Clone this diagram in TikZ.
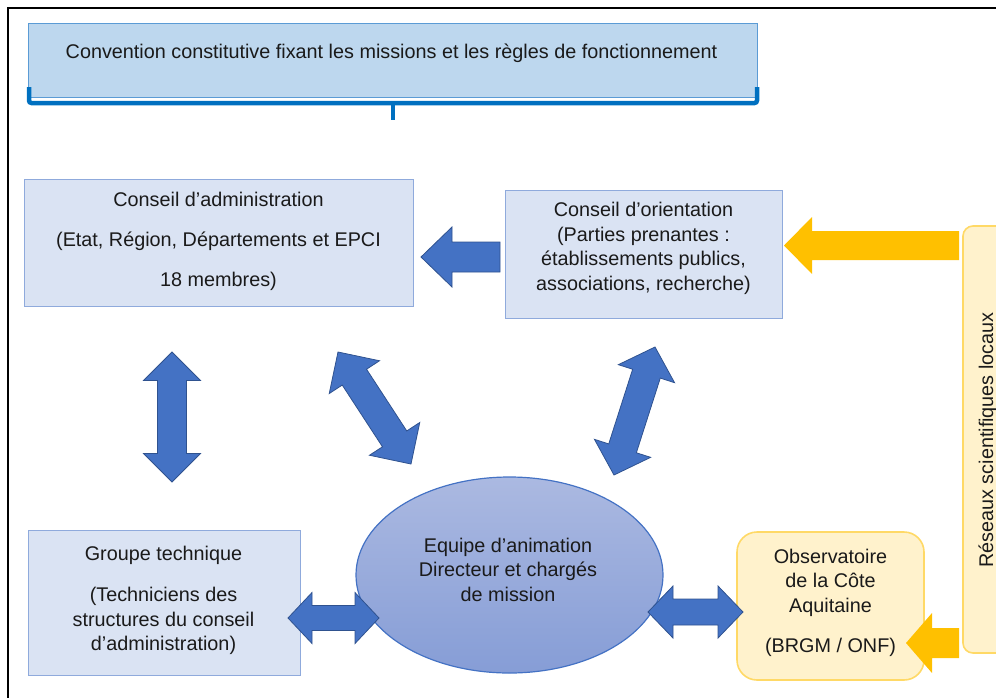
\documentclass[tikz,border=0pt]{standalone}
\usepackage{fontspec}
\setmainfont{Liberation Sans}
\usetikzlibrary{calc,shapes.geometric}
\definecolor{convfill}{HTML}{BDD7EE}
\definecolor{convline}{HTML}{5B9BD5}
\definecolor{bracketc}{HTML}{0070C0}
\definecolor{boxfill}{HTML}{DAE3F3}
\definecolor{boxline}{HTML}{8FAADC}
\definecolor{arrowfill}{HTML}{4472C4}
\definecolor{arrowline}{HTML}{2F528F}
\definecolor{ellline}{HTML}{4472C4}
\definecolor{elltop}{HTML}{ABB9E1}
\definecolor{ellbot}{HTML}{869DD6}
\definecolor{yelfill}{HTML}{FFF2CC}
\definecolor{yelline}{HTML}{FFD966}
\definecolor{yelarrow}{HTML}{FFC000}
\definecolor{txtc}{HTML}{1A1A1A}
% double block arrow: style, A, B, shaft half, head half, head length
\newcommand\dblblock[6]{%
  \path ($(#2)!#6!(#3)$) coordinate (tmpa) ($(#3)!#6!(#2)$) coordinate (tmpb);
  \draw[#1] (#2) -- ($(tmpa)!#5!90:(#3)$) -- ($(tmpa)!#4!90:(#3)$) -- ($(tmpb)!#4!-90:(#2)$) -- ($(tmpb)!#5!-90:(#2)$) -- (#3) -- ($(tmpb)!#5!90:(#2)$) -- ($(tmpb)!#4!90:(#2)$) -- ($(tmpa)!#4!-90:(#3)$) -- ($(tmpa)!#5!-90:(#3)$) -- cycle;
}
% single block arrow: style, tail, tip, shaft half, head half, head length
\newcommand\oneblock[6]{%
  \path ($(#3)!#6!(#2)$) coordinate (tmpb);
  \draw[#1] ($(#2)!#4!90:(#3)$) -- ($(tmpb)!#4!-90:(#2)$) -- ($(tmpb)!#5!-90:(#2)$) -- (#3) -- ($(tmpb)!#5!90:(#2)$) -- ($(tmpb)!#4!90:(#2)$) -- ($(#2)!#4!-90:(#3)$) -- cycle;
}
\tikzset{
  lbl/.style={font=\fontsize{19.8}{24.5}\selectfont, text=txtc, align=center, inner sep=0pt},
  bluebox/.style={draw=boxline, fill=boxfill, line width=1pt, inner sep=0pt, outer sep=0pt},
  yelbox/.style={draw=yelline, fill=yelfill, line width=1.6pt, inner sep=0pt, outer sep=0pt, rounded corners=#1},
  bluearrow/.style={fill=arrowfill, draw=arrowline, line width=0.8pt, line join=miter},
  yarrow/.style={fill=yelarrow, draw=none},
}
\begin{document}
\begin{tikzpicture}[x=1pt,y=-1pt]
\useasboundingbox (0,0) rectangle (996,697);
% frame
\draw[line width=2.2pt] (7.7,720) -- (7.7,7.7) -- (1020,7.7);

% convention box with bracket
\node[draw=convline, fill=convfill, line width=1pt, inner sep=0pt, minimum width=729pt, minimum height=74pt] (conv) at (392.5,60) {};
\node[lbl] (convt) at (391.5,53.5) {Convention constitutive fixant les missions et les règles de fonctionnement};
\draw[bracketc, line width=4.5pt, rounded corners=2.5pt] (29,87) -- (29,103) -- (757,103) -- (757,87);
\draw[bracketc, line width=4.5pt] (393,103) -- (393,120);

% boxes
\node[bluebox, minimum width=389pt, minimum height=127pt] (ca) at (218.5,242.5) {};
\node[lbl] (cat) at (218.5,241.5) {Conseil d’administration\\[15.5pt](Etat, Région, Départements et EPCI\\[15.5pt]18 membres)};

\node[bluebox, minimum width=277pt, minimum height=128pt] (co) at (643.5,254) {};
\node[lbl] (cot) at (643.5,248.5) {Conseil d’orientation\\(Parties prenantes :\\établissements publics,\\associations, recherche)};

\node[bluebox, minimum width=272pt, minimum height=145pt] (gt) at (164,602.5) {};
\node[lbl] (gtt) at (163.5,600.5) {Groupe technique\\[16.5pt](Techniciens des\\structures du conseil\\d’administration)};

\node[ellipse, draw=ellline, line width=1.2pt, top color=elltop, bottom color=ellbot, minimum width=307pt, minimum height=196pt, inner sep=0pt] (eq) at (509.5,575) {};
\node[lbl] (eqt) at (508,569.5) {Equipe d’animation\\Directeur et chargés\\de mission};

\node[yelbox=20pt, minimum width=187pt, minimum height=148pt] (obs) at (830.5,606) {};
\node[lbl] (obst) at (830.5,602.5) {Observatoire\\de la Côte\\Aquitaine\\[15.5pt](BRGM / ONF)};

\node[yelbox=10pt, minimum width=54pt, minimum height=427pt] (res) at (990,439.5) {};
\node[lbl, rotate=90] (rest) at (988,440) {Réseaux scientifiques locaux};

% connector end points
\coordinate (a1s) at (172,352); \coordinate (a1e) at (172,482);
\coordinate (a2s) at (338,352); \coordinate (a2e) at (411,464);
\coordinate (a3s) at (655,347); \coordinate (a3e) at (614,475);
\coordinate (a4s) at (288,618); \coordinate (a4e) at (379,618);
\coordinate (a5s) at (648,612); \coordinate (a5e) at (743,612);
\coordinate (a6s) at (500,257); \coordinate (a6e) at (421,257);
\coordinate (y1s) at (959,245.5); \coordinate (y1e) at (784,245.5);
\coordinate (y2s) at (959,643); \coordinate (y2e) at (906,643);

% blue block arrows
\dblblock{bluearrow}{a1s}{a1e}{14.5pt}{28.5pt}{28.5pt}
\dblblock{bluearrow}{a2s}{a2e}{14.5pt}{30pt}{30pt}
\dblblock{bluearrow}{a3s}{a3e}{14.5pt}{29.5pt}{28pt}
\dblblock{bluearrow}{a4s}{a4e}{12.5pt}{25.5pt}{24pt}
\dblblock{bluearrow}{a5s}{a5e}{13pt}{26pt}{25pt}
\oneblock{bluearrow}{a6s}{a6e}{15pt}{30pt}{31pt}

% yellow block arrows
\oneblock{yarrow}{y1s}{y1e}{14.5pt}{28.5pt}{28pt}
\oneblock{yarrow}{y2s}{y2e}{15pt}{30pt}{26pt}
\end{tikzpicture}
\end{document}
